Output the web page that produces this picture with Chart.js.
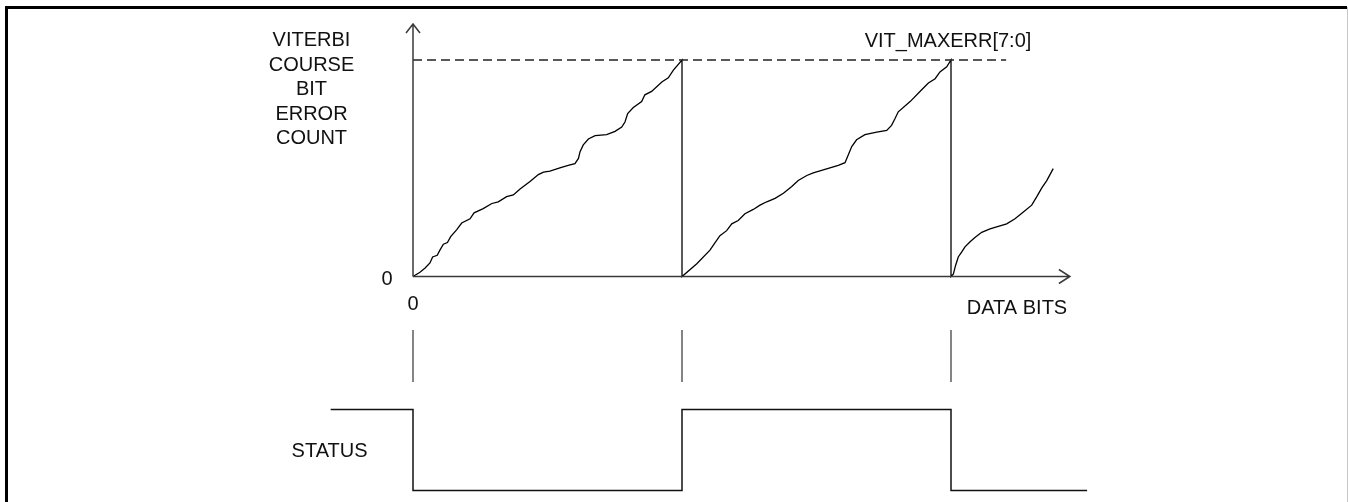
<!DOCTYPE html>
<html>
<head>
<meta charset="utf-8">
<title>Viterbi course bit error count</title>
<script src="https://cdn.jsdelivr.net/npm/chart.js@4.4.1/dist/chart.umd.min.js"></script>
<style>
  html, body { margin: 0; padding: 0; background: #fff; }
  canvas { display: block; }
</style>
</head>
<body>
<canvas id="myChart" width="1348" height="502"></canvas>
<script>
// data bits are in % of one error-count period, count is the error counter (VIT_MAXERR = 255)
const cycle1Bits  = [0, 2.6, 4.5, 6.3, 7.3, 9.0, 10.0, 11.3, 12.8, 14.0, 16.2, 18.1, 21.2, 22.7, 26.1, 29.3, 31.7, 34.8, 37.3, 39.8,
                     43.5, 46.6, 48.5, 50.9, 54.6, 57.7, 60.2, 61.5, 62.1, 63.3, 65.2, 67.7, 72.0, 75.1, 77.6, 78.8, 79.8, 81.9, 85.0, 86.2,
                     88.7, 92.5, 94.9, 96.8, 100];
const cycle1Count = [0, 5, 10, 16, 23, 25, 31, 38, 40, 47, 55, 63, 68, 75, 80, 86, 88, 94, 96, 103,
                     112, 120, 123, 124, 128, 131, 133, 139, 147, 155, 162, 166, 167, 171, 176, 182, 192, 199, 206, 214,
                     218, 229, 234, 243, 255];

const cycle2Bits  = [100, 105.5, 110.4, 112.3, 114.1, 116.6, 118.5, 120.9, 123.4, 126.5, 129.0, 131.5, 134.6, 137.7, 140.8, 143.2, 146.4, 148.8, 151.9, 155.0,
                     158.1, 160.6, 161.8, 163.1, 164.9, 168.0, 172.4, 176.1, 177.9, 179.2, 180.4, 184.8, 189.1, 191.6, 194.1, 195.9, 198.4, 200];
const cycle2Count = [0, 15, 31, 40, 48, 54, 62, 66, 74, 79, 84, 88, 92, 98, 106, 113, 119, 122, 125, 128,
                     131, 134, 143, 153, 161, 167, 170, 172, 178, 186, 194, 206, 220, 228, 233, 241, 247, 255];

const cycle3Bits  = [200, 200.9, 201.7, 202.7, 204.0, 205.2, 207.1, 208.9, 211.4, 214.5, 217.6, 220.7, 223.8, 226.9, 230.0, 231.9, 233.7, 235.6, 238.0];
const cycle3Count = [0, 3, 13, 23, 29, 35, 41, 46, 52, 56, 59, 62, 68, 76, 84, 94, 104, 113, 127];

const maxErrBits  = [0, 220.5];
const maxErrCount = [255, 255];

const statusBits  = [-30.6, 0, 100, 200, 250.6];
const statusLevel = [1, 0, 1, 0, 0];

const markerBits = [0, 100, 200];

const yTitle = ['VITERBI', 'COURSE', 'BIT', 'ERROR', 'COUNT'];

// layout (pixels)
const W = 1348, H = 502;
const PLOT_TOP = 20, PLOT_BOTTOM = 495;
const ORIGIN_X = 413, PX_PER_BIT = 2.69;
const COUNT0_Y = 276.5, COUNTMAX_Y = 60;
const STATUS_HI_Y = 409.5, STATUS_LO_Y = 490.5;
const X_MIN = -35, X_MAX = 255;
const AXIS_X_END = 244.2;      // arrow tip of DATA BITS axis
const AXIS_Y_TOP = 24;         // arrow tip pixel of count axis
const MARKER_TOP = 330, MARKER_BOTTOM = 382;
const FONT = '20px "Liberation Sans", Arial, sans-serif';

function rangeFor(v0, p0, v1, p1) {
  const k = (p0 - p1) / (v1 - v0);
  return { min: v0 - (PLOT_BOTTOM - p0) / k, max: v1 + (p1 - PLOT_TOP) / k };
}
const countRange = rangeFor(0, COUNT0_Y, 255, COUNTMAX_Y);
const statusRange = rangeFor(0, STATUS_LO_Y, 1, STATUS_HI_Y);

function pts(xs, ys) { return xs.map((x, i) => ({ x: x, y: ys[i] })); }

const countPoints = pts(cycle1Bits, cycle1Count)
  .concat(pts(cycle2Bits, cycle2Count))
  .concat(pts(cycle3Bits, cycle3Count));

const statusPerPx = (statusRange.max - statusRange.min) / (PLOT_BOTTOM - PLOT_TOP);
const markerHi = statusRange.min + (PLOT_BOTTOM - MARKER_TOP) * statusPerPx;
const markerLo = statusRange.min + (PLOT_BOTTOM - MARKER_BOTTOM) * statusPerPx;
const markerPoints = [];
markerBits.forEach(b => {
  markerPoints.push({ x: b, y: markerLo }, { x: b, y: markerHi }, { x: b, y: null });
});

const frame = {
  id: 'frame',
  beforeDraw(chart) {
    const c = chart.ctx;
    c.save();
    c.fillStyle = '#fff';
    c.fillRect(0, 0, W, H);
    c.strokeStyle = '#000';
    c.lineWidth = 3;
    c.beginPath();
    c.moveTo(6.5, H + 5);
    c.lineTo(6.5, 7.5);
    c.lineTo(W - 1, 7.5);
    c.stroke();
    c.strokeStyle = '#c8c8c8';
    c.lineWidth = 1;
    c.beginPath();
    c.moveTo(W - 0.5, 7);
    c.lineTo(W - 0.5, H);
    c.stroke();
    c.restore();
  },
  afterDatasetsDraw(chart) {
    const c = chart.ctx;
    const x = chart.scales.x, y = chart.scales.y;
    const x0 = x.getPixelForValue(0), y0 = y.getPixelForValue(0);
    const xEnd = x.getPixelForValue(AXIS_X_END);
    c.save();
    c.strokeStyle = '#3a3a3a';
    c.lineWidth = 1.5;
    c.beginPath();
    c.moveTo(x0, y0);
    c.lineTo(x0, AXIS_Y_TOP);
    c.moveTo(x0 - 7, AXIS_Y_TOP + 9);
    c.lineTo(x0, AXIS_Y_TOP);
    c.lineTo(x0 + 7, AXIS_Y_TOP + 9);
    c.moveTo(x0, y0);
    c.lineTo(xEnd, y0);
    c.moveTo(xEnd - 11, y0 - 7);
    c.lineTo(xEnd, y0);
    c.lineTo(xEnd - 11, y0 + 7);
    c.stroke();

    c.fillStyle = '#111';
    c.font = FONT;
    c.textBaseline = 'alphabetic';
    c.textAlign = 'center';
    const base = [46, 70.5, 95, 119.5, 143.5];
    yTitle.forEach((t, i) => c.fillText(t, 311.5, base[i]));
    c.fillText('0', x0 - 26, y0 + 8.5);
    c.fillText('0', x0, 309.5);
    c.fillText('VIT_MAXERR[7:0]', 948, 46.5);
    c.fillText('DATA BITS', 1017, 313.5);
    c.textAlign = 'right';
    c.fillText('STATUS', 367.5, 457);
    c.restore();
  }
};

const ctx = document.getElementById('myChart').getContext('2d');
const chart = new Chart(ctx, {
  type: 'line',
  data: {
    datasets: [
      {
        label: 'VIT_MAXERR',
        data: pts(maxErrBits, maxErrCount),
        yAxisID: 'y',
        borderColor: '#222',
        borderWidth: 1.3,
        borderDash: [9, 5]
      },
      {
        label: 'error count',
        data: countPoints,
        yAxisID: 'y',
        borderColor: '#000',
        borderWidth: 1.3
      },
      {
        label: 'markers',
        data: markerPoints,
        yAxisID: 'ys',
        borderColor: '#333',
        borderWidth: 1.2,
        spanGaps: false
      },
      {
        label: 'STATUS',
        data: pts(statusBits, statusLevel),
        yAxisID: 'ys',
        borderColor: '#111',
        borderWidth: 1.5,
        stepped: 'before'
      }
    ]
  },
  options: {
    responsive: false,
    animation: false,
    devicePixelRatio: 1,
    layout: {
      padding: {
        left: ORIGIN_X + X_MIN * PX_PER_BIT,
        right: W - (ORIGIN_X + X_MAX * PX_PER_BIT),
        top: PLOT_TOP,
        bottom: H - PLOT_BOTTOM
      }
    },
    elements: { point: { radius: 0, hoverRadius: 0 }, line: { tension: 0, fill: false } },
    plugins: { legend: { display: false }, tooltip: { enabled: false }, title: { display: false } },
    scales: {
      x: { type: 'linear', display: false, min: X_MIN, max: X_MAX },
      y: { type: 'linear', display: false, min: countRange.min, max: countRange.max },
      ys: { type: 'linear', display: false, min: statusRange.min, max: statusRange.max }
    }
  },
  plugins: [frame]
});
</script>
</body>
</html>
